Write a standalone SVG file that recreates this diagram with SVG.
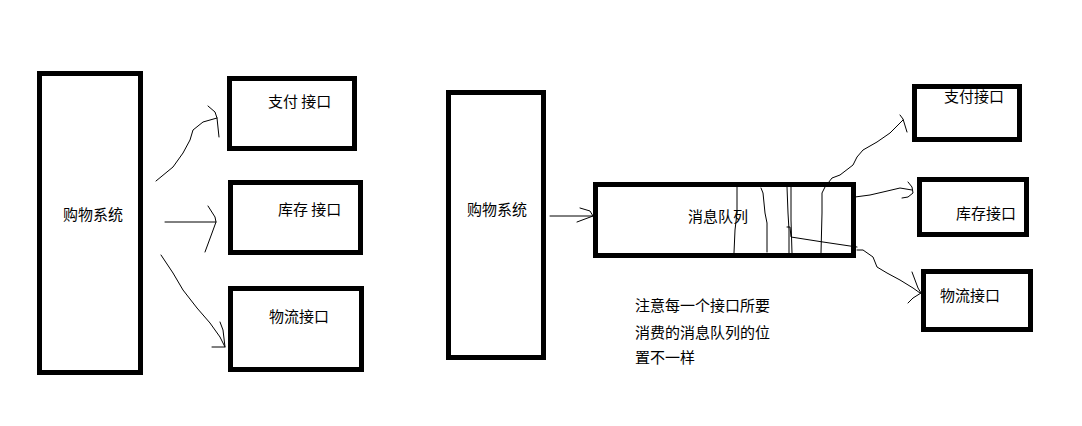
<svg xmlns="http://www.w3.org/2000/svg" width="1082" height="426" viewBox="0 0 1082 426">
<style>
.box{fill:#fff;stroke:#000;stroke-width:5}
.t{font-family:"Noto Sans CJK SC","Microsoft YaHei",sans-serif;font-size:15px;fill:#000}
.c{fill:none;stroke:#000;stroke-width:1;stroke-linejoin:round;stroke-linecap:round}
</style>
<rect width="1082" height="426" fill="#fff"/>
<g id="shop1"><rect class="box" x="39.5" y="73.5" width="101" height="299"/><text class="t" x="63" y="220">购物系统</text></g>
<g id="pay1"><rect class="box" x="229.5" y="78.5" width="125" height="70"/><text class="t" x="268" y="107">支付 接口</text></g>
<g id="stock1"><rect class="box" x="230.5" y="182.5" width="130" height="70"/><text class="t" x="278" y="215">库存 接口</text></g>
<g id="logi1"><rect class="box" x="230.5" y="288.5" width="131" height="81"/><text class="t" x="269" y="322">物流接口</text></g>
<g id="shop2"><rect class="box" x="448.5" y="92.5" width="95" height="265"/><text class="t" x="467" y="215">购物系统</text></g>
<g id="mq"><rect class="box" x="595.5" y="184.5" width="258" height="71"/><text class="t" x="688" y="222">消息队列</text></g>
<g id="pay2"><rect class="box" x="914.5" y="86.5" width="105" height="53"/><text class="t" x="944" y="102">支付接口</text></g>
<g id="stock2"><rect class="box" x="919.5" y="179.5" width="107" height="55"/><text class="t" x="956" y="219">库存接口</text></g>
<g id="logi2"><rect class="box" x="923.5" y="271.5" width="107" height="58"/><text class="t" x="940" y="301">物流接口</text></g>
<g id="note"><text class="t" x="635" y="311">注意每一个接口所要</text><text class="t" x="635" y="338">消费的消息队列的位</text><text class="t" x="635" y="363">置不一样</text></g>
<g id="connectors">
<polyline class="c" points="156,181 173,167 183,153 190,140 193,130 203,122 217,118"/>
<polyline class="c" points="208,106 215,112 217,118 219,137"/>
<polyline class="c" points="165,222 216,222"/>
<polyline class="c" points="208,206 215,217 216,222 212,233 205,252"/>
<polyline class="c" points="161,255 173,273 183,290 197,308 210,323 220,337 225,347"/>
<polyline class="c" points="220,322 223,330 225,347 212,347"/>
<polyline class="c" points="550,216 593,216"/>
<polyline class="c" points="580,208 590,211 593,216 577,222"/>
<polyline class="c" points="737,187 737,213 735,230 734,253"/>
<polyline class="c" points="761,188 763,193 765,213 767,223 767,252"/>
<polyline class="c" points="787,187 788,213 789,230 789,253"/>
<polyline class="c" points="791,187 791,220 792,253"/>
<polyline class="c" points="821,253 822,213 822,193 825,187 832,178 840,175 853,165 857,157 863,150 877,142 890,133 903,120"/>
<polyline class="c" points="900,115 903,119 907,132"/>
<polyline class="c" points="855,197 870,195 883,192 900,188 912,190"/>
<polyline class="c" points="908,182 912,187 913,193 908,197 902,198"/>
<polyline class="c" points="787,227 790,227 791,237 823,242 850,246 857,247"/>
<polyline class="c" points="857,250 863,250 873,257 877,267 887,273 900,280 913,288 920,293"/>
<polyline class="c" points="912,272 915,280 918,288 921,293 913,298 908,303"/>
</g>
</svg>
